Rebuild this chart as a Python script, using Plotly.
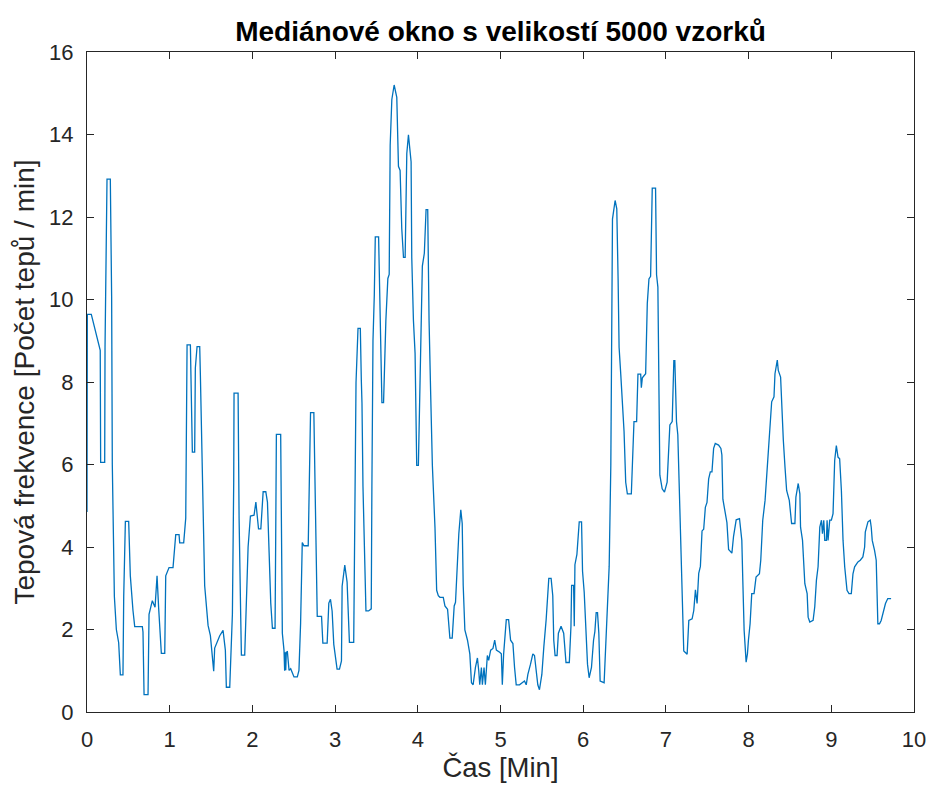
import plotly.graph_objects as go

title_text = "Mediánové okno s velikostí 5000 vzorků"
x_label = "Čas [Min]"
y_label = "Tepová frekvence [Počet tepů / min]"
x_ticks = [0, 1, 2, 3, 4, 5, 6, 7, 8, 9, 10]
y_ticks = [0, 2, 4, 6, 8, 10, 12, 14, 16]

cas_min = [
    0.0, 0.004, 0.052, 0.16, 0.165, 0.214, 0.218, 0.226, 0.242, 0.282, 0.298, 0.306, 0.315, 0.331, 0.355,
    0.383, 0.403, 0.435, 0.444, 0.464, 0.504, 0.524, 0.556, 0.577, 0.669, 0.677, 0.69, 0.738, 0.75, 0.79,
    0.823, 0.847, 0.867, 0.899, 0.94, 0.952, 0.992, 1.04, 1.073, 1.113, 1.121, 1.169, 1.194, 1.202, 1.21,
    1.25, 1.262, 1.274, 1.302, 1.31, 1.331, 1.363, 1.371, 1.403, 1.423, 1.464, 1.492, 1.532, 1.544, 1.605,
    1.645, 1.673, 1.685, 1.726, 1.758, 1.774, 1.778, 1.827, 1.839, 1.859, 1.867, 1.907, 1.927, 1.948, 1.976,
    2.02, 2.042, 2.074, 2.102, 2.13, 2.162, 2.182, 2.202, 2.222, 2.242, 2.274, 2.282, 2.29, 2.342, 2.35,
    2.362, 2.382, 2.39, 2.396, 2.403, 2.41, 2.423, 2.443, 2.463, 2.503, 2.543, 2.563, 2.583, 2.603, 2.623,
    2.675, 2.691, 2.703, 2.743, 2.763, 2.784, 2.836, 2.852, 2.904, 2.924, 2.944,
    2.964, 2.984, 3.024, 3.053, 3.077, 3.085, 3.117, 3.145, 3.173, 3.225, 3.237, 3.253, 3.277, 3.305, 3.317,
    3.325, 3.337, 3.357, 3.373, 3.405, 3.437, 3.445, 3.458, 3.474, 3.486, 3.526, 3.538, 3.558, 3.566, 3.586,
    3.598, 3.614, 3.638, 3.654, 3.666, 3.686, 3.714, 3.746, 3.766, 3.786, 3.806, 3.827, 3.847, 3.867, 3.887,
    3.919, 3.927, 3.947, 3.967, 3.987, 4.007, 4.027, 4.055, 4.079, 4.1, 4.12, 4.136, 4.156, 4.176, 4.208,
    4.228, 4.248,
    4.268, 4.308, 4.328, 4.36, 4.376, 4.388, 4.416, 4.428, 4.44, 4.456, 4.48, 4.496, 4.52, 4.537, 4.549,
    4.569, 4.601, 4.629, 4.649, 4.669, 4.697, 4.721, 4.737, 4.749, 4.769, 4.781, 4.801, 4.817, 4.841, 4.857,
    4.881, 4.909, 4.93, 4.95, 4.99, 5.01, 5.022, 5.038, 5.07, 5.098, 5.122, 5.15, 5.17, 5.19, 5.23,
    5.27, 5.29, 5.311, 5.331, 5.363, 5.391, 5.411, 5.431, 5.451, 5.471, 5.5, 5.524, 5.552, 5.584, 5.612,
    5.632, 5.644, 5.66, 5.684, 5.7, 5.732, 5.764, 5.78, 5.792, 5.832, 5.852, 5.86, 5.884, 5.892, 5.9,
    5.924, 5.952, 5.98, 5.992, 6.012, 6.032, 6.052, 6.072, 6.1, 6.125, 6.141, 6.157, 6.173, 6.189, 6.205,
    6.253,
    6.274, 6.294, 6.314, 6.334, 6.342, 6.354, 6.386, 6.406, 6.422, 6.434, 6.454, 6.474, 6.494, 6.514, 6.534,
    6.582, 6.606, 6.614, 6.646, 6.662, 6.695, 6.703, 6.715, 6.755, 6.775, 6.795, 6.815, 6.823, 6.835, 6.875,
    6.887, 6.903, 6.915, 6.927, 6.955, 6.983, 7.015, 7.048, 7.076, 7.096, 7.108, 7.128, 7.144, 7.156, 7.176,
    7.196, 7.216, 7.257, 7.277, 7.317, 7.337, 7.357, 7.377, 7.397, 7.417, 7.437, 7.457, 7.477, 7.497, 7.517,
    7.537, 7.557, 7.577, 7.597, 7.637, 7.665, 7.677, 7.689, 7.718, 7.738, 7.758, 7.798, 7.818, 7.85,
    7.89, 7.918, 7.93, 7.946, 7.97, 7.986, 7.998, 8.018, 8.038, 8.066, 8.09, 8.131, 8.147, 8.171, 8.199,
    8.219, 8.239, 8.259, 8.279, 8.307, 8.319, 8.347, 8.359, 8.387, 8.399, 8.42, 8.44, 8.46, 8.492, 8.508,
    8.52, 8.56, 8.572, 8.6, 8.62, 8.628, 8.652, 8.68, 8.708, 8.72, 8.74, 8.78, 8.8, 8.82, 8.84,
    8.861, 8.881, 8.893, 8.909, 8.921, 8.941, 8.949, 8.961, 8.981, 9.001, 9.021, 9.041, 9.061, 9.081, 9.101,
    9.122, 9.142, 9.162, 9.19, 9.214, 9.242, 9.262, 9.282, 9.322, 9.35, 9.382, 9.403, 9.411, 9.443, 9.471,
    9.483, 9.495, 9.523, 9.543, 9.563, 9.583, 9.603, 9.623, 9.655, 9.683, 9.723,
]

tepova_frekvence = [
    4.85, 9.64, 9.64, 8.77, 6.05, 6.05, 8.86, 10.6, 12.92, 12.92, 10.07, 6.0, 4.7, 2.8, 2.0,
    1.68, 0.9, 0.9, 2.8, 4.62, 4.62, 3.3, 2.46, 2.07, 2.07, 1.94, 0.42, 0.42, 2.37, 2.7,
    2.54, 3.3, 2.5, 1.42, 1.42, 3.3, 3.5, 3.5, 4.3, 4.3, 4.1, 4.1, 4.7, 7.3, 8.9,
    8.9, 7.3, 6.3, 6.3, 8.34, 8.86, 8.86, 8.17, 4.7, 3.06, 2.1, 1.85, 0.99, 1.55, 1.85,
    1.98, 1.5, 0.6, 0.6, 2.37, 5.57, 7.73, 7.73, 4.7, 2.28, 1.38, 1.38, 2.54, 4.0, 4.75,
    4.77, 5.09, 4.44, 4.44, 5.34, 5.34, 5.09, 3.87, 2.64, 2.03, 2.03, 4.28, 6.73, 6.73, 5.09,
    1.91, 1.5, 1.0, 1.45, 1.01, 1.45, 1.46, 1.01, 1.05, 0.85, 0.85, 1.01, 2.16, 4.11, 4.03,
    4.03, 5.91, 7.26, 7.26, 5.09, 2.32, 2.32, 1.67, 1.67, 2.64, 2.73,
    2.45, 1.64, 1.04, 1.04, 1.24, 3.05, 3.56, 3.15, 1.69, 1.69, 4.46, 7.99, 9.3, 9.3, 8.04,
    7.49, 5.47, 3.46, 2.45, 2.45, 2.5, 5.47, 9.0, 10.11, 11.52, 11.52, 10.51, 8.6, 7.5, 7.5,
    8.5, 9.5, 10.51, 10.61, 13.74, 14.85, 15.2, 14.9, 13.23, 13.13, 11.72, 11.02, 11.02, 13.54, 13.99,
    13.34, 11.02, 9.5, 8.7, 5.98, 5.98, 8.29, 10.81, 11.12, 12.18, 12.18, 9.5, 7.69, 5.98, 4.46,
    2.95, 2.82,
    2.78, 2.78, 2.57, 2.49, 1.99, 1.79, 1.79, 2.08, 2.57, 2.66, 3.9, 4.32, 4.9, 4.57, 3.07,
    1.99, 1.74, 1.41, 0.71, 0.66, 1.08, 1.31, 1.0, 0.66, 1.08, 0.66, 1.08, 0.66, 1.37, 1.25,
    1.5, 1.54, 1.74, 1.5, 1.45, 1.41, 0.66, 1.41, 2.24, 2.24, 1.74, 1.66, 1.08, 0.66, 0.66,
    0.71, 0.75, 0.66, 0.91, 1.16, 1.41, 1.37, 1.0, 0.66, 0.54, 0.91, 1.58, 2.24, 3.24, 3.24,
    2.82, 1.74, 1.37, 1.37, 1.91, 2.08, 1.91, 1.41, 1.2, 1.2, 2.08, 3.07, 3.07, 2.08, 3.57,
    3.82, 4.61, 4.61, 3.41, 2.91, 1.91, 1.16, 0.83, 1.08, 1.74, 1.95, 2.41, 2.41, 1.91, 0.75,
    0.71,
    1.81, 2.55, 3.53, 5.98, 8.84, 11.95, 12.4, 12.2, 10.5, 8.84, 8.19, 7.62, 6.8, 5.57, 5.29,
    5.29, 6.39, 7.04, 7.04, 8.19, 8.19, 7.86, 8.1, 8.2, 9.9, 10.5, 10.56, 12.1, 12.7, 12.7,
    10.6, 10.3, 8.35, 5.74, 5.41, 5.33, 5.57, 6.96, 7.04, 8.52, 8.52, 7.04, 6.72, 5.74, 4.75,
    3.12, 1.48, 1.4, 2.22, 2.26, 2.46, 2.96, 2.63, 3.36, 3.53, 4.39, 4.43, 4.96, 5.08, 5.65,
    5.82, 5.82, 6.39, 6.51, 6.47, 6.39, 6.23, 5.16, 4.75, 4.59, 3.94, 3.85, 4.26, 4.66,
    4.69, 4.16, 3.19, 1.98, 1.21, 1.41, 1.74, 2.14, 2.87, 2.87, 3.27, 3.35, 3.68, 4.65, 5.13,
    5.78, 6.26, 6.99, 7.52, 7.64, 8.2, 8.53, 8.28, 8.12, 7.39, 6.59, 5.94, 5.37, 5.13, 4.81,
    4.57, 4.57, 5.21, 5.54, 5.29, 4.48, 4.16, 3.11, 2.87, 2.3, 2.18, 2.22, 2.55, 3.19, 3.52,
    4.48, 4.65, 4.32, 4.65, 4.16, 4.16, 4.65, 4.16, 4.65, 4.65, 4.81, 6.1, 6.46, 6.18, 6.14,
    5.37, 4.16, 3.52, 2.95, 2.87, 2.87, 3.35, 3.52, 3.64, 3.68, 3.76, 4.0, 4.36, 4.61, 4.65,
    4.48, 4.16, 3.92, 3.68, 2.14, 2.14, 2.22, 2.38, 2.63, 2.75, 2.75,
]

FONT = "Liberation Sans, Arial, Helvetica, sans-serif"
AX = "#262626"

fig = go.Figure()
fig.add_trace(go.Scatter(
    x=cas_min, y=tepova_frekvence, mode="lines",
    line=dict(color="#0072BD", width=1.3),
    showlegend=False, hoverinfo="x+y",
))

axis_common = dict(
    showgrid=False, zeroline=False, showline=True, linecolor=AX, linewidth=1,
    mirror="ticks", ticks="inside", ticklen=7, tickwidth=1, tickcolor=AX,
    tickfont=dict(family=FONT, size=22, color=AX),
)

fig.update_layout(
    width=938, height=793,
    margin=dict(l=87, r=20, t=52, b=81),
    paper_bgcolor="white", plot_bgcolor="white",
    title=dict(text="<b>" + title_text + "</b>", x=0.5, xref="paper", y=1 - 31 / 793,
               yref="container", xanchor="center", yanchor="middle",
               font=dict(family=FONT, size=28, color="black")),
    xaxis=dict(range=[0, 10], tickvals=x_ticks, ticktext=[str(v) for v in x_ticks],
               title=dict(text=x_label, font=dict(family=FONT, size=27.5, color=AX), standoff=5),
               ticklabelstandoff=8, **axis_common),
    yaxis=dict(range=[0, 16], tickvals=y_ticks, ticktext=[str(v) for v in y_ticks],
               title=dict(text=y_label, font=dict(family=FONT, size=28, color=AX), standoff=6),
               ticklabelstandoff=8, **axis_common),
)

fig.write_html("out.html")
